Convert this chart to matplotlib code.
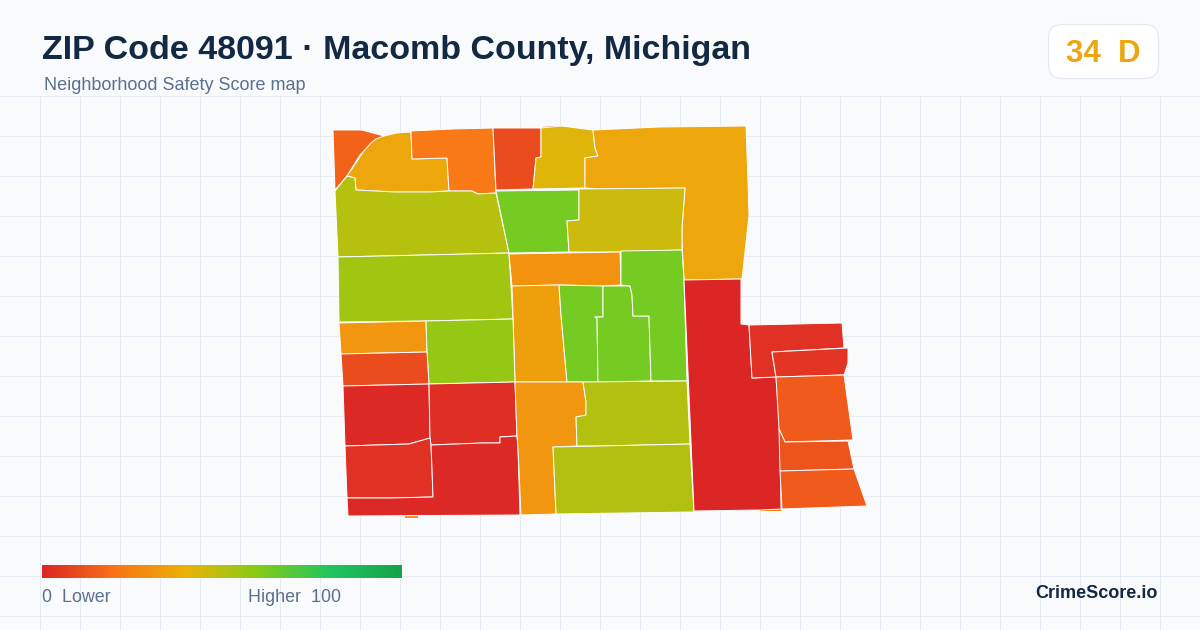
import matplotlib
matplotlib.use('Agg')
import matplotlib.pyplot as plt
from matplotlib.colors import LinearSegmentedColormap
from matplotlib.patches import FancyBboxPatch, Polygon
import numpy as np

plt.rcParams['font.family'] = ['Liberation Sans', 'DejaVu Sans']

# tract scores, same order as tract_shapes
tract_scores = [16, 36, 22, 10, 42, 36, 50, 63, 46, 54, 30, 34, 63, 63, 63, 31, 57, 10,
                1, 2, 3, 1, 31, 51, 51, 0, 3, 4, 14, 12, 14]

# tract outlines, in picture pixels
tract_shapes = [
    [(333,130),(362,130),(384,136),(372,143),(360,155),(347,176),(335,190)],
    [(384,136),(397,133),(411,132),(412,159),(447,158),(449,191),(429,192),(395,192),(356,190),(355,178),(347,176),(356,163),(363,152),(370,144),(376,139)],
    [(411,131),(452,129),(493,128),(496,193),(478,194),(472,191),(449,191),(447,158),(412,159)],
    [(493,128),(541,128),(541,157),(536,158),(533,189),(496,190)],
    [(541,128),(562,126),(577,128),(593,130),(595,148),(598,156),(585,158),(585,188),(533,189),(536,158),(541,157)],
    [(593,130),(660,127),(746,126),(748,182),(749,215),(745,252),(742,279),(684,280),(682,242),(682,228),(685,188),(600,189),(585,188),(585,158),(598,156),(595,148)],
    [(347,176),(355,178),(356,190),(395,192),(429,192),(449,191),(472,191),(478,194),(496,193),(509,253),(425,255),(338,257),(335,191)],
    [(496,191),(579,190),(579,220),(567,221),(569,252),(509,253)],
    [(579,189),(685,188),(682,228),(682,250),(620,252),(569,252),(567,221),(579,220)],
    [(338,257),(425,255),(509,253),(513,319),(425,321),(339,322)],
    [(509,254),(620,252),(621,285),(603,286),(559,285),(512,286)],
    [(512,286),(559,285),(561,315),(567,382),(515,382),(513,315)],
    [(559,285),(603,286),(603,317),(595,317),(597,318),(598,382),(567,382),(561,315)],
    [(603,286),(630,286),(632,295),(633,316),(649,316),(651,381),(598,382),(597,318),(595,317),(603,317)],
    [(621,251),(682,250),(684,280),(687,381),(651,381),(649,316),(633,316),(632,295),(630,286),(621,285)],
    [(339,323),(426,321),(427,352),(341,354)],
    [(426,321),(513,319),(515,382),(429,384),(427,352)],
    [(341,354),(427,352),(429,384),(343,386)],
    [(343,386),(429,384),(430,438),(409,444),(345,446)],
    [(429,384),(515,382),(517,436),(500,437),(500,443),(482,443),(431,445),(430,438)],
    [(345,446),(409,444),(430,438),(431,445),(432,468),(433,497),(390,498),(347,498)],
    [(431,445),(482,443),(500,443),(500,437),(517,436),(518,448),(520,515),(348,516),(347,498),(390,498),(433,497),(432,468)],
    [(515,382),(583,382),(586,402),(586,415),(576,417),(577,446),(553,447),(556,514),(521,515),(518,448),(517,436)],
    [(583,382),(687,381),(690,444),(600,446),(577,446),(576,417),(586,415),(586,402)],
    [(553,447),(600,446),(690,444),(694,512),(556,514)],
    [(684,280),(741,279),(741,324),(749,325),(752,378),(776,377),(780,430),(781,509),(760,510),(694,511)],
    [(749,325),(842,323),(844,348),(772,352),(776,377),(752,378)],
    [(772,352),(848,348),(848,363),(844,375),(776,377)],
    [(776,377),(844,375),(853,440),(785,442),(779,429)],
    [(779,429),(785,442),(848,441),(854,469),(780,471)],
    [(780,471),(854,469),(867,506),(782,509)],
]

# tiny slivers that peek out along the map edge
sliver_scores = [2, 28, 24]
sliver_shapes = [
    [(543,127),(560,126),(560,128),(543,128)],
    [(405,516),(418,516),(418,518),(405,518)],
    [(760,510),(781,509),(781,511),(760,511)],
]

# colour ramp of the legend
ramp_positions = [0, 0.2, 0.4, 0.6, 0.8, 1]
ramp_colors = ['#dc2626', '#f97316', '#eab308', '#84cc16', '#22c55e', '#16a34a']

title = 'ZIP Code 48091 · Macomb County, Michigan'
subtitle = 'Neighborhood Safety Score map'
score_text = '34  D'

cmap = LinearSegmentedColormap.from_list('safety', list(zip(ramp_positions, ramp_colors)))

fig = plt.figure(figsize=(12, 6.3), dpi=100, facecolor='#f8fafc')
ax = fig.add_axes([0, 0, 1, 1])
ax.set_xlim(0, 1200)
ax.set_ylim(630, 0)
ax.axis('off')

# background grid only starts under the header
for x in range(40, 1200, 40):
    ax.plot([x, x], [96, 630], color='#e4ebf2', lw=0.72, zorder=1)
for y in range(96, 630, 40):
    ax.plot([0, 1200], [y, y], color='#e4ebf2', lw=0.72, zorder=1)

for shape, score in zip(sliver_shapes, sliver_scores):
    ax.add_patch(Polygon(shape, closed=True, facecolor=cmap(score / 100), edgecolor='none', zorder=2))

for shape, score in zip(tract_shapes, tract_scores):
    ax.add_patch(Polygon(shape, closed=True, facecolor=cmap(score / 100), edgecolor='white',
                         linewidth=0.7, joinstyle='round', zorder=2))

ax.text(42, 50, title, fontsize=24.45, fontweight='bold', color='#132843', va='center', ha='left')
ax.text(44, 86, subtitle, fontsize=12.95, color='#5b708f', va='center', ha='left')

# score badge
ax.add_patch(FancyBboxPatch((1048.5, 24.5), 110, 54, boxstyle='round,pad=0,rounding_size=14',
                            facecolor='white', edgecolor='#e2e8f0', linewidth=0.8, zorder=3))
ax.text(1103, 54, score_text, fontsize=22.5, fontweight='bold', color='#eca611',
        va='center', ha='center', zorder=4)

# legend
gradient = np.linspace(0, 1, 360).reshape(1, -1)
ax.imshow(gradient, cmap=cmap, extent=(42, 402, 578, 565), aspect='auto', zorder=3)
ax.set_xlim(0, 1200)
ax.set_ylim(630, 0)
ax.text(42, 598, '0  Lower', fontsize=12.9, color='#5b708f', va='center', ha='left')
ax.text(341, 598, 'Higher  100', fontsize=12.9, color='#5b708f', va='center', ha='right')

ax.text(1158, 594, 'CrimeScore.io', fontsize=13, fontweight='bold', color='#132843', va='center', ha='right')

fig.savefig('out.png', dpi=100, facecolor=fig.get_facecolor())
